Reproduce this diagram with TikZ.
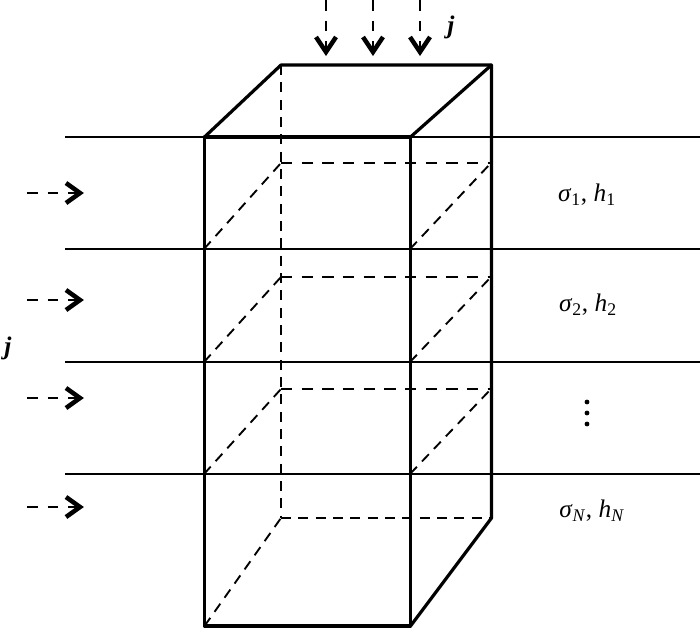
\documentclass[tikz,border=0pt]{standalone}
\usepackage{fontspec}
\setmainfont{Liberation Serif}
\usetikzlibrary{arrows.meta}
\tikzset{
  solidthick/.style={line width=2.4pt,line cap=round,line join=round,black},
  layerline/.style={line width=1.5pt,black},
  hiddenline/.style={line width=1.4pt,black,dash pattern=on 7.5pt off 5.5pt},
  ringline/.style={line width=1.4pt,black,dash pattern=on 8.5pt off 7pt},
  fluxshaft/.style={line width=1.4pt,black,dash pattern=on 8pt off 7.5pt},
  fluxhead/.style={line width=3.4pt,black,miter limit=10},
  lab/.style={inner sep=0pt,font=\fontsize{19}{22}\selectfont},
  jlab/.style={inner sep=0pt,font=\fontsize{19}{22}\selectfont\bfseries\itshape},
  ddot/.style={circle,fill=black,draw=none,inner sep=0pt,minimum size=3.6pt}
}
\newcommand{\fluxdown}[2]{%
  \coordinate (#2s) at (#1,0);
  \coordinate (#2e) at (#1,50);
  \draw[fluxshaft] (#2s) -- (#2e);
  \draw[fluxhead] (#1-10,37) -- (#1,52) -- (#1+10,37);
}
\newcommand{\fluxright}[2]{%
  \coordinate (#2s) at (27,#1);
  \coordinate (#2e) at (78,#1);
  \draw[fluxshaft] (#2s) -- (#2e);
  \draw[fluxhead] (66,#1-10) -- (80,#1) -- (66,#1+10);
}
\newcommand{\lay}[2]{\textit{σ}\textsubscript{#1}, \textit{h}\textsubscript{#2}}
\begin{document}
\begin{tikzpicture}[x=0.75pt,y=-0.75pt]
\useasboundingbox (0,0) rectangle (700,632);
% front box
\coordinate (ftl) at (204.5,137);
\coordinate (ftr) at (410.5,137);
\coordinate (fbr) at (410.5,626);
\coordinate (fbl) at (204.5,626);
% back box
\coordinate (btl) at (281,65);
\coordinate (btr) at (491.5,65);
\coordinate (bbr) at (491.5,518);
\coordinate (bbl) at (281,518);
% layer lines
\foreach \y/\n in {137/a,249/b,362/c,474/d}{
  \coordinate (L\n) at (65,\y);
  \coordinate (R\n) at (700,\y);
  \draw[layerline] (L\n) -- (R\n);
}
% back layer rings
\foreach \y/\b/\n in {163/249/b,277/362/c,389/474/d}{
  \coordinate (F\n) at (204,\b);
  \coordinate (G\n) at (410,\b);
  \coordinate (P\n) at (281,\y);
  \coordinate (Q\n) at (491,\y);
  \draw[ringline] (P\n) -- (Q\n);
  \draw[hiddenline] (F\n) -- (P\n);
  \draw[hiddenline] (G\n) -- (Q\n);
}
% hidden edges
\draw[hiddenline] (btl) -- (bbl);
\draw[hiddenline] (bbl) -- (bbr);
\draw[hiddenline] (fbl) -- (bbl);
% solid edges
\draw[solidthick] (ftl) -- (ftr) -- (fbr) -- (fbl) -- cycle;
\draw[solidthick] (ftl) -- (btl) -- (btr) -- (bbr) -- (fbr);
\draw[solidthick] (ftr) -- (btr);
% flux arrows
\fluxdown{326}{ta}
\fluxdown{373}{tb}
\fluxdown{420}{tc}
\fluxright{193}{la}
\fluxright{300}{lb}
\fluxright{398}{lc}
\fluxright{507}{ld}
% labels
\node[jlab] (j1) at (451,27) {j};
\node[jlab] (j2) at (8,348) {j};
\node[lab] (s1) at (587,195) {\lay{1}{1}};
\node[lab] (s2) at (588,305) {\lay{2}{2}};
\node[lab] (sn) at (592,511) {\lay{\textit{N}}{\textit{N}}};
\node[ddot] (d1) at (587,402) {};
\node[ddot] (d2) at (587,413) {};
\node[ddot] (d3) at (587,424) {};
\end{tikzpicture}
\end{document}
